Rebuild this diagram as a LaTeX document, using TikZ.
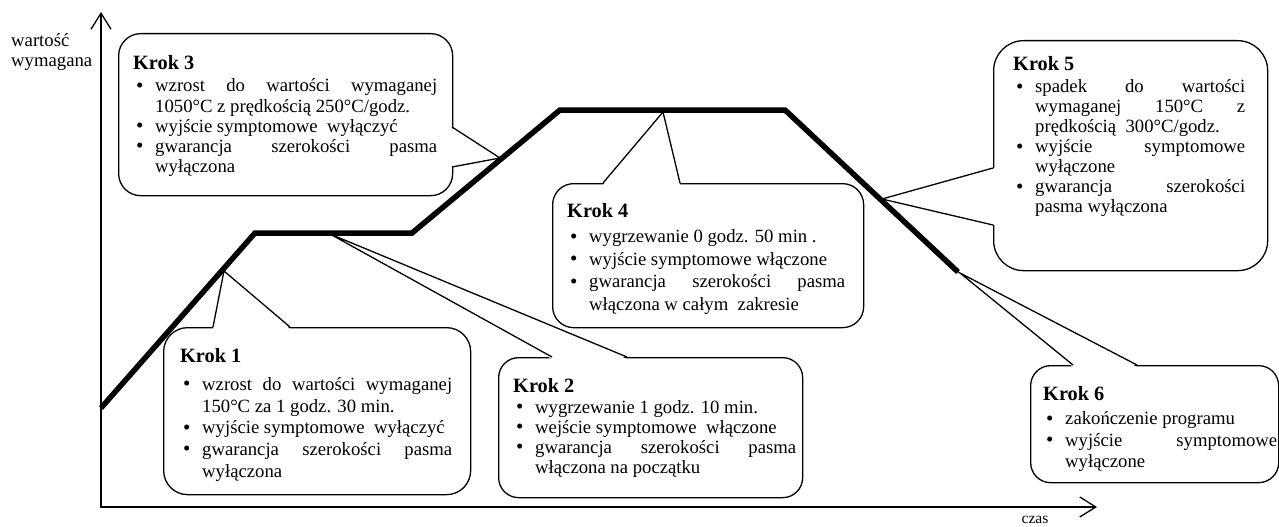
\documentclass[tikz,border=0pt]{standalone}
\usepackage{fontspec}
\setmainfont{Liberation Serif}
\usetikzlibrary{arrows.meta,calc}

% one bullet item with a hanging indent
\newcommand{\bitem}[1]{\par\hangindent=22pt\hangafter=1\noindent
  \makebox[22pt][l]{\hspace{3pt}\smash{\fontsize{21}{21}\selectfont\raisebox{-0.4pt}{\textbullet}}}#1\par}
% bold heading of a step, followed by a gap of #2
\newcommand{\steptitle}[2]{{\fontsize{20.3}{21}\selectfont\bfseries #1}\par\vspace{#2}}
% pointer of a callout: erase the border between the base points, then draw the two sides
\newcommand{\pointer}[4]{%
  \fill[white] ($(#1)+(#4)$) -- ($(#2)+(#4)$) -- ($(#2)!0.4!(#3)$) -- ($(#1)!0.4!(#3)$) -- cycle;
  \draw[wedgeline] (#1) -- (#3) -- (#2);}

\begin{document}
\begin{tikzpicture}[x=1pt,y=-1pt,
  axisline/.style={line width=1.3pt,{Straight Barb[length=16pt,width=20pt]}-{Straight Barb[length=16pt,width=20pt]}},
  profile/.style={line width=5.5pt,line join=miter},
  stepbox/.style={draw,fill=white,line width=1.3pt,anchor=north west,inner sep=0pt},
  wedgeline/.style={line width=1.3pt,line join=miter},
  steptext/.style={anchor=north west,inner sep=0pt,align=justify},
  axislabel/.style={inner sep=0pt,align=left,font=\fontsize{18.7}{20}\selectfont}]
\useasboundingbox (0,0) rectangle (1279,527);

% axes
\coordinate (ytop) at (101,12);
\coordinate (orig) at (101,507);
\coordinate (xend) at (1097,507);
\draw[axisline] (ytop) -- (orig) -- (xend);
\node[axislabel,anchor=west] (ylab) at (11,52) {wartość\\wymagana};
\node[axislabel,anchor=center,font=\fontsize{15.6}{16}\selectfont] (xlab) at (1035,520) {czas};

% temperature profile
\coordinate (p0) at (101,408);
\coordinate (p1) at (255,233);
\coordinate (p2) at (412,233);
\coordinate (p3) at (560,110);
\coordinate (p4) at (785,110);
\coordinate (p5) at (958,272);
\draw[profile] (p0) -- (p1) -- (p2) -- (p3) -- (p4) -- (p5);

% pointer tips on the profile
\coordinate (t1) at (224,271);
\coordinate (t2) at (330,234);
\coordinate (t3) at (500,158);
\coordinate (t4) at (663,112);
\coordinate (t5) at (882,199);
\coordinate (t6) at (960,273);

% step 1
\node[stepbox,rounded corners=24pt,minimum width=307pt,minimum height=167pt] (k1) at (163,327) {};
\coordinate (a1) at (213,327); \coordinate (b1) at (290,327);
\pointer{a1}{b1}{t1}{0,2}
\node[steptext,text width=272pt,font=\fontsize{18.7}{21.7}\selectfont] (s1) at (180,348) {\steptitle{Krok 1}{6.5pt}%
\bitem{wzrost do wartości wymaganej\linebreak 150°C za 1 godz. 30 min.}%
\bitem{wyjście symptomowe\ \ wyłączyć}%
\bitem{gwarancja szerokości pasma\linebreak wyłączona}};

% step 2
\node[stepbox,rounded corners=20pt,minimum width=304pt,minimum height=140pt] (k2) at (498,357) {};
\coordinate (a2) at (552,357); \coordinate (b2) at (627,357);
\pointer{a2}{b2}{t2}{0,2}
\node[steptext,text width=283pt,font=\fontsize{18.7}{20}\selectfont] (s2) at (513,378) {\steptitle{Krok 2}{1pt}%
\bitem{wygrzewanie 1 godz. 10 min.}%
\bitem{wejście symptomowe\ \ włączone}%
\bitem{gwarancja szerokości pasma\linebreak włączona na początku}};

% step 3
\node[stepbox,rounded corners=22pt,minimum width=334pt,minimum height=162pt] (k3) at (118,33) {};
\coordinate (a3) at (452,127); \coordinate (b3) at (452,167);
\pointer{a3}{b3}{t3}{-2,0}
\node[steptext,text width=304pt,font=\fontsize{18.7}{20.2}\selectfont] (s3) at (133,55) {\steptitle{Krok 3}{2.5pt}%
\bitem{wzrost do wartości wymaganej\linebreak 1050°C z prędkością 250°C/godz.}%
\bitem{wyjście symptomowe\ \ wyłączyć}%
\bitem{gwarancja szerokości pasma\linebreak wyłączona}};

% step 4
\node[stepbox,rounded corners=21pt,minimum width=311pt,minimum height=144pt] (k4) at (552,183) {};
\coordinate (a4) at (603,183); \coordinate (b4) at (680,183);
\pointer{a4}{b4}{t4}{0,2}
\node[steptext,text width=278pt,font=\fontsize{18.7}{22.5}\selectfont] (s4) at (567,203) {\steptitle{Krok 4}{3pt}%
\bitem{wygrzewanie 0 godz. 50 min .}%
\bitem{wyjście symptomowe włączone}%
\bitem{gwarancja szerokości pasma\linebreak włączona w całym\ \ zakresie}};

% step 5
\node[stepbox,rounded corners=30pt,minimum width=274pt,minimum height=230pt] (k5) at (993,40) {};
\coordinate (a5) at (993,168); \coordinate (b5) at (993,225);
\pointer{a5}{b5}{t5}{2,0}
\node[steptext,text width=232pt,font=\fontsize{18.7}{20}\selectfont] (s5) at (1013,56) {\steptitle{Krok 5}{2.5pt}%
\bitem{spadek do wartości\linebreak wymaganej 150°C z\linebreak prędkością\ \ 300°C/godz.}%
\bitem{wyjście symptomowe\linebreak wyłączone}%
\bitem{gwarancja szerokości\linebreak pasma wyłączona}};

% step 6
\node[stepbox,rounded corners=20pt,minimum width=248pt,minimum height=117pt] (k6) at (1030,365) {};
\coordinate (a6) at (1073,365); \coordinate (b6) at (1137,365);
\pointer{a6}{b6}{t6}{0,2}
\node[steptext,text width=234pt,font=\fontsize{18.7}{21.5}\selectfont] (s6) at (1043,386) {\steptitle{Krok 6}{3pt}%
\bitem{zakończenie programu}%
\bitem{wyjście symptomowe\linebreak wyłączone}};
\end{tikzpicture}
\end{document}
